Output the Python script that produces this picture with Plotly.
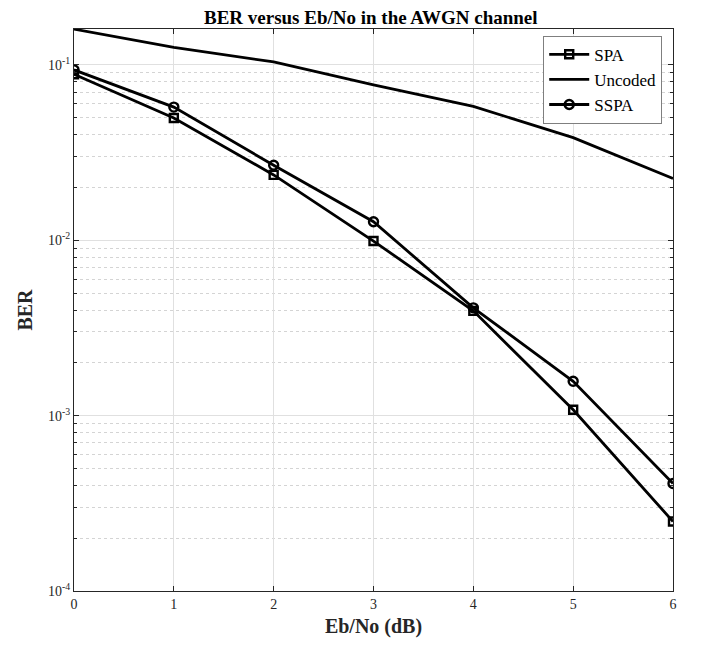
import plotly.graph_objects as go

ebno = [0, 1, 2, 3, 4, 5, 6]
ber_spa = [0.0885, 0.0498, 0.0236, 0.0099, 0.00396, 0.00108, 0.000249]
ber_uncoded = [0.160, 0.126, 0.104, 0.0769, 0.058, 0.0385, 0.0225]
ber_sspa = [0.0937, 0.0575, 0.0268, 0.01276, 0.00412, 0.00157, 0.00041]

y_major = [1e-4, 1e-3, 1e-2, 1e-1]
y_major_text = ["10<sup>-4</sup>", "10<sup>-3</sup>", "10<sup>-2</sup>", "10<sup>-1</sup>"]
y_minor = [m * 10.0 ** e for e in range(-4, 0) for m in range(2, 10) if m * 10.0 ** e < 0.161]

FONT = "Liberation Serif"

fig = go.Figure()
fig.add_trace(go.Scatter(x=ebno, y=ber_spa, name="SPA", mode="lines+markers",
                         line=dict(color="black", width=2.8),
                         marker=dict(symbol="square-open", size=8, color="black", line=dict(width=2.4))))
fig.add_trace(go.Scatter(x=ebno, y=ber_uncoded, name="Uncoded", mode="lines",
                         line=dict(color="black", width=2.8)))
fig.add_trace(go.Scatter(x=ebno, y=ber_sspa, name="SSPA", mode="lines+markers",
                         line=dict(color="black", width=2.8),
                         marker=dict(symbol="circle-open", size=9, color="black", line=dict(width=2.4))))

# page body has an 8px margin; size/margins compensate so the plot lands where the reference has it
fig.update_layout(
    width=699, height=638,
    margin=dict(l=66, r=34, t=21, b=53),
    paper_bgcolor="white", plot_bgcolor="white",
    font=dict(family=FONT, color="#262626", size=13),
    title=dict(text="<b>BER versus Eb/No in the AWGN channel</b>", x=0.519, xanchor="center",
               xref="container", yref="container",
               y=0.985, yanchor="middle", font=dict(size=19, color="black", family=FONT)),
    showlegend=True,
    legend=dict(x=0.982, y=0.988, xanchor="right", yanchor="top",
                bgcolor="white", bordercolor="#7f7f7f", borderwidth=1,
                font=dict(size=17, color="black", family=FONT),
                tracegroupgap=0, itemwidth=40),
)
fig.update_xaxes(
    range=[0, 6], tickvals=ebno, ticktext=[str(v) for v in ebno],
    showgrid=True, gridcolor="#e0e0e0", gridwidth=1,
    ticks="inside", ticklen=5, tickcolor="#262626",
    showline=True, linecolor="#262626", linewidth=1, mirror="allticks",
    zeroline=False,
    title=dict(text="<b>Eb/No (dB)</b>", font=dict(size=20, color="#262626", family=FONT), standoff=8),
    tickfont=dict(size=14),
)
fig.update_yaxes(
    type="log", range=[-4, -0.795],
    tickvals=y_major, ticktext=y_major_text,
    showgrid=True, gridcolor="#e0e0e0", gridwidth=1,
    ticks="inside", ticklen=5, tickcolor="#262626",
    showline=True, linecolor="#262626", linewidth=1, mirror="allticks",
    zeroline=False,
    minor=dict(tickmode="array", tickvals=y_minor, ticks="inside", ticklen=3, tickcolor="#262626",
               showgrid=True, gridcolor="#d4d4d4", griddash="dot", gridwidth=1),
    title=dict(text="<b>BER</b>", font=dict(size=20, color="#262626", family=FONT), standoff=10),
    tickfont=dict(size=14),
)

fig.write_html("out.html")
